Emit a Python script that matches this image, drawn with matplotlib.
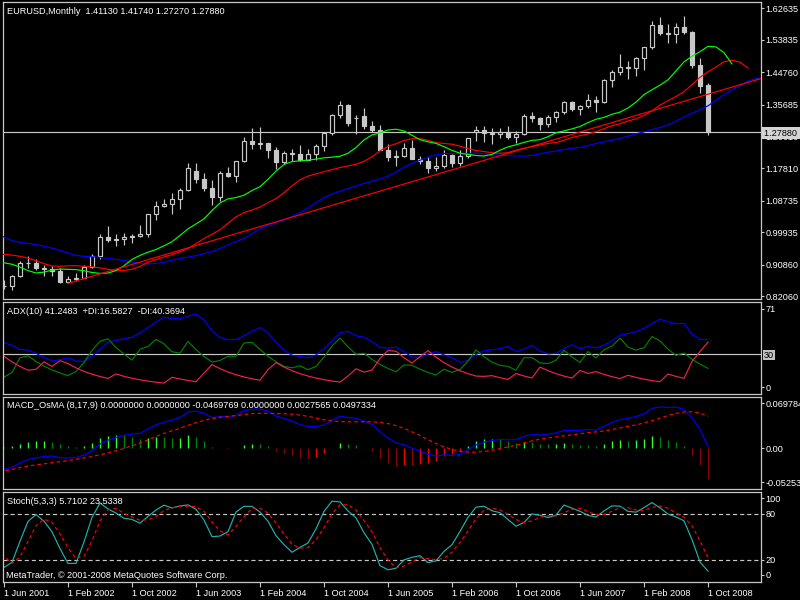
import numpy as np
import pandas as pd
import matplotlib
matplotlib.use("Agg")
import matplotlib.pyplot as plt

# EURUSD monthly, Jan 1999 - May 2001 (history left of the visible window, feeds the indicators)
pre_open = [1.1790, 1.1300, 1.0990, 1.0780, 1.0580, 1.0430, 1.0350, 1.0700, 1.0590, 1.0670, 1.0570, 1.0080,
            1.0070, 0.9720, 0.9650, 0.9570, 0.9110, 0.9330, 0.9520, 0.9230, 0.8880, 0.8830, 0.8490, 0.8720,
            0.9390, 0.9380, 0.9210, 0.8800, 0.8870]
pre_high = [1.1880, 1.1350, 1.1000, 1.0880, 1.0720, 1.0530, 1.0750, 1.0880, 1.0720, 1.0890, 1.0600, 1.0210,
            1.0420, 0.9930, 0.9800, 0.9680, 0.9360, 0.9650, 0.9560, 0.9270, 0.8950, 0.8870, 0.8760, 0.9430,
            0.9600, 0.9390, 0.9340, 0.9080, 0.8960]
pre_low = [1.1290, 1.0880, 1.0700, 1.0530, 1.0380, 1.0160, 1.0110, 1.0390, 1.0300, 1.0420, 1.0060, 1.0000,
           0.9690, 0.9390, 0.9530, 0.9080, 0.8840, 0.9280, 0.9170, 0.8860, 0.8440, 0.8230, 0.8420, 0.8680,
           0.9160, 0.9060, 0.8760, 0.8780, 0.8420]
pre_close = [1.1300, 1.0990, 1.0780, 1.0580, 1.0430, 1.0350, 1.0700, 1.0590, 1.0670, 1.0570, 1.0080, 1.0070,
             0.9720, 0.9650, 0.9570, 0.9110, 0.9330, 0.9520, 0.9230, 0.8880, 0.8830, 0.8490, 0.8720, 0.9390,
             0.9380, 0.9210, 0.8800, 0.8870, 0.8460]

# visible bars, Jun 2001 - Oct 2008
opens = [0.8500, 0.8480, 0.8770, 0.9120, 0.9140, 0.9000, 0.8970,
         0.8910, 0.8590, 0.8680, 0.8720, 0.9010, 0.9340, 0.9870, 0.9770, 0.9800, 0.9870, 0.9880, 0.9930,
         1.0490, 1.0730, 1.0780, 1.0910, 1.1170, 1.1720, 1.1490, 1.1240, 1.0980, 1.1650, 1.1580, 1.1990,
         1.2560, 1.2460, 1.2480, 1.2300, 1.1950, 1.2200, 1.2170, 1.2020, 1.2170, 1.2420, 1.2760, 1.3280,
         1.3560, 1.3200, 1.3250, 1.2960, 1.2860, 1.2300, 1.2100, 1.2130, 1.2340, 1.2030, 1.1990, 1.1790,
         1.1840, 1.2160, 1.1920, 1.2120, 1.2800, 1.2850, 1.2780, 1.2750, 1.2810, 1.2670, 1.2740, 1.3240,
         1.3200, 1.3010, 1.3230, 1.3350, 1.3650, 1.3450, 1.3540, 1.3700, 1.3630, 1.4260, 1.4490, 1.4630,
         1.4590, 1.4860, 1.5180, 1.5790, 1.5580, 1.5540, 1.5750, 1.5600, 1.4680, 1.4113]
highs = [0.8660, 0.8800, 0.9200, 0.9320, 0.9230, 0.9070, 0.9050,
         0.9000, 0.8780, 0.8850, 0.9070, 0.9390, 0.9930, 1.0180, 0.9950, 0.9960, 0.9930, 1.0190, 1.0490,
         1.0880, 1.0930, 1.1080, 1.1230, 1.1930, 1.1930, 1.1640, 1.1450, 1.1700, 1.1830, 1.2000, 1.2650,
         1.2900, 1.2930, 1.2500, 1.2390, 1.2280, 1.2320, 1.2440, 1.2310, 1.2450, 1.2810, 1.3300, 1.3670,
         1.3580, 1.3270, 1.3480, 1.3110, 1.2990, 1.2450, 1.2300, 1.2480, 1.2580, 1.2140, 1.2090, 1.2090,
         1.2290, 1.2180, 1.2300, 1.2640, 1.2980, 1.2980, 1.2900, 1.2920, 1.2970, 1.2840, 1.3290, 1.3370,
         1.3210, 1.3270, 1.3390, 1.3680, 1.3680, 1.3550, 1.3850, 1.3820, 1.4280, 1.4530, 1.4970, 1.4780,
         1.4890, 1.5190, 1.5900, 1.6020, 1.5820, 1.5840, 1.6040, 1.5630, 1.4870, 1.4174]
lows = [0.8400, 0.8370, 0.8740, 0.8990, 0.8930, 0.8770, 0.8780,
        0.8580, 0.8560, 0.8620, 0.8700, 0.9000, 0.9250, 0.9720, 0.9620, 0.9640, 0.9690, 0.9860, 0.9870,
        1.0340, 1.0690, 1.0500, 1.0630, 1.1150, 1.1380, 1.1140, 1.0760, 1.0880, 1.1540, 1.1400, 1.1960,
        1.2330, 1.2330, 1.2080, 1.1760, 1.1910, 1.1980, 1.2000, 1.2020, 1.2010, 1.2260, 1.2710, 1.3190,
        1.2980, 1.2730, 1.2880, 1.2810, 1.2290, 1.1990, 1.1860, 1.2110, 1.2030, 1.1900, 1.1640, 1.1700,
        1.1800, 1.1830, 1.1860, 1.2060, 1.2550, 1.2510, 1.2450, 1.2640, 1.2610, 1.2480, 1.2710, 1.3080,
        1.2860, 1.2950, 1.3070, 1.3290, 1.3400, 1.3270, 1.3460, 1.3360, 1.3600, 1.4050, 1.4400, 1.4280,
        1.4360, 1.4530, 1.5130, 1.5520, 1.5290, 1.5280, 1.5550, 1.4600, 1.3880, 1.2727]
closes = [0.8480, 0.8770, 0.9120, 0.9140, 0.9000, 0.8970, 0.8910,
          0.8590, 0.8680, 0.8720, 0.9010, 0.9340, 0.9870, 0.9770, 0.9800, 0.9870, 0.9880, 0.9930, 1.0490,
          1.0730, 1.0780, 1.0910, 1.1170, 1.1800, 1.1490, 1.1240, 1.0980, 1.1650, 1.1580, 1.1990, 1.2560,
          1.2460, 1.2480, 1.2300, 1.1950, 1.2200, 1.2170, 1.2020, 1.2170, 1.2420, 1.2760, 1.3280, 1.3560,
          1.3040, 1.3200, 1.2960, 1.2860, 1.2300, 1.2100, 1.2130, 1.2340, 1.2030, 1.1990, 1.1790, 1.1840,
          1.2160, 1.1920, 1.2120, 1.2630, 1.2850, 1.2780, 1.2750, 1.2810, 1.2670, 1.2740, 1.3240, 1.3200,
          1.3010, 1.3230, 1.3350, 1.3650, 1.3450, 1.3540, 1.3700, 1.3630, 1.4260, 1.4490, 1.4630, 1.4590,
          1.4860, 1.5180, 1.5790, 1.5580, 1.5540, 1.5750, 1.5600, 1.4680, 1.4090, 1.2788]

# trend line anchors (bar index from Jun 2001, price)
trend_start = (8, 0.8560)
trend_end = (53, 1.1540)

price_ticks = [1.62635, 1.53835, 1.44760, 1.35685, 1.26610, 1.17810, 1.08735, 0.99935, 0.90860, 0.82060]
adx_ticks = [71, 0]
macd_ticks = [0.069784, 0.0, -0.05253]
macd_tick_labels = ["0.069784", "0.00", "-0.05253"]
stoch_ticks = [100, 80, 20, 0]

# indicator read-outs as printed on the chart
adx_title = "ADX(10) 41.2483  +DI:16.5827  -DI:40.3694"
macd_title = "MACD_OsMA (8,17,9) 0.0000000 0.0000000 -0.0469769 0.0000000 0.0027565 0.0497334"
stoch_title = "Stoch(5,3,3) 5.7102 23.5338"

o = np.array(pre_open + opens)
h = np.array(pre_high + highs)
l = np.array(pre_low + lows)
c = np.array(pre_close + closes)
n_pre = len(pre_close)
x = np.arange(len(c)) - n_pre
dates = pd.date_range("1999-01-01", periods=len(c), freq="MS")


def smma(v, n):
    out = np.full(len(v), np.nan)
    out[n - 1] = v[:n].mean()
    for i in range(n, len(v)):
        out[i] = (out[i - 1] * (n - 1) + v[i]) / n
    return out


def ema(v, n):
    a = 2.0 / (n + 1)
    out = np.empty(len(v))
    out[0] = v[0]
    for i in range(1, len(v)):
        out[i] = out[i - 1] + a * (v[i] - out[i - 1])
    return out


# alligator
median = (h + l) / 2
jaw = smma(median, 13)
teeth = smma(median, 8)
lips = smma(median, 5)

# ADX(10)
pdm = np.zeros(len(c))
mdm = np.zeros(len(c))
for i in range(1, len(c)):
    up = max(h[i] - h[i - 1], 0)
    dn = max(l[i - 1] - l[i], 0)
    if up > dn:
        dn = 0
    elif dn > up:
        up = 0
    else:
        up = dn = 0
    tr = max(h[i] - l[i], abs(h[i] - c[i - 1]), abs(l[i] - c[i - 1]))
    pdm[i] = 100 * up / tr
    mdm[i] = 100 * dn / tr
plus_di = ema(pdm, 10)
minus_di = ema(mdm, 10)
dsum = np.where(plus_di + minus_di == 0, 1, plus_di + minus_di)
adx = ema(100 * np.abs(plus_di - minus_di) / dsum, 10)

# MACD / OsMA (8,17,9)
macd = ema(c, 8) - ema(c, 17)
signal = pd.Series(macd).rolling(9).mean().to_numpy()
osma = macd - signal

# Stochastic (5,3,3)
num = np.full(len(c), np.nan)
den = np.full(len(c), np.nan)
for i in range(4, len(c)):
    num[i] = c[i] - l[i - 4:i + 1].min()
    den[i] = h[i - 4:i + 1].max() - l[i - 4:i + 1].min()
stoch_k = 100 * pd.Series(num).rolling(3).sum().to_numpy() / pd.Series(den).rolling(3).sum().to_numpy()
stoch_d = pd.Series(stoch_k).rolling(3).mean().to_numpy()

plt.rcParams['font.family'] = ['Liberation Sans', 'DejaVu Sans']
FG = "#c8c8c8"
FS = 6.6
W, H = 800, 600
fig = plt.figure(figsize=(8, 6), dpi=100, facecolor="black")


def panel(top, bottom):
    ax = fig.add_axes([3 / W, 1 - bottom / H, 758 / W, (bottom - top) / H], facecolor="black")
    for s in ax.spines.values():
        s.set_color(FG)
        s.set_linewidth(0.9)
    ax.set_xlim(-0.125, 94.625)
    ax.yaxis.tick_right()
    ax.tick_params(axis="y", direction="out", length=2.5, width=0.8, colors=FG,
                   labelcolor="white", labelsize=FS, pad=0.8)
    ax.tick_params(axis="x", bottom=False, labelbottom=False)
    return ax


def ftext(px, py, s, **kw):
    kw.setdefault("color", "white")
    fig.text(px / W, 1 - py / H, s, fontsize=FS, va="center", **kw)


lw = 0.85

# price panel
ax1 = panel(2, 299)
ax1.set_ylim(0.81220, 1.64399)
ax1.set_yticks(price_ticks)
ax1.set_yticklabels([f"{t:.5f}" for t in price_ticks])
vis = x >= 0
bull = vis & (c >= o)
bear = vis & (c < o)
ax1.vlines(x[vis], l[vis], h[vis], color=FG, lw=lw, zorder=2)
ax1.bar(x[bull], c[bull] - o[bull], bottom=o[bull], width=0.55, facecolor="black",
        edgecolor=FG, linewidth=lw, zorder=3)
ax1.bar(x[bear], c[bear] - o[bear], bottom=o[bear], width=0.55, facecolor=FG,
        edgecolor=FG, linewidth=lw, zorder=3)
ax1.axhline(closes[-1], color=FG, lw=lw, zorder=2)
ax1.plot(x + 8, jaw, color="#0000ff", lw=lw, zorder=4)
ax1.plot(x + 5, teeth, color="#ff0000", lw=lw, zorder=4)
ax1.plot(x + 3, lips, color="#00ff00", lw=lw, zorder=4)
slope = (trend_end[1] - trend_start[1]) / (trend_end[0] - trend_start[0])
tx = np.array([trend_start[0], 100])
ax1.plot(tx, trend_start[1] + slope * (tx - trend_start[0]), color="#ff0000", lw=lw, zorder=4)
ftext(7, 11, f"EURUSD,Monthly  {opens[-1]:.5f} {highs[-1]:.5f} {lows[-1]:.5f} {closes[-1]:.5f}")
ftext(764, 133, f"{closes[-1]:.5f}    ", color="black", zorder=10,
      bbox=dict(facecolor="#d4d4d4", edgecolor="none", pad=1.3))

# ADX panel
ax2 = panel(302, 394)
ax2.set_ylim(-6.37, 77.37)
ax2.set_yticks(adx_ticks)
ax2.axhline(30, color=FG, lw=lw)
ax2.plot(x, adx, color="#0000ff", lw=lw)
ax2.plot(x, plus_di, color="#008000", lw=lw)
ax2.plot(x, minus_di, color="#f0204a", lw=lw)
ftext(7, 311, adx_title)
ftext(764, 355, "30", color="black", zorder=10,
      bbox=dict(facecolor="#c0c0c0", edgecolor="none", pad=0.6))

# MACD panel
ax3 = panel(397, 489)
ax3.set_ylim(-0.06292, 0.07955)
ax3.set_yticks(macd_ticks)
ax3.set_yticklabels(macd_tick_labels)
prev = np.concatenate([[np.nan], osma[:-1]])
cols = np.where(osma >= 0, np.where(osma >= prev, "#32ff32", "#008000"),
                np.where(osma >= prev, "#ff0000", "#8b0000"))
ok = ~np.isnan(osma)
ax3.vlines(x[ok], 0, osma[ok], colors=cols[ok], lw=1.0)
ax3.plot(x, macd, color="#0000ff", lw=lw)
ax3.plot(x, signal, color="#ff0000", lw=lw, ls=(0, (3, 2.5)))
ftext(7, 406, macd_title)

# Stochastic panel
ax4 = panel(492, 582)
ax4.set_ylim(-9.13, 108.2)
ax4.set_yticks(stoch_ticks)
for lev in (20, 80):
    ax4.axhline(lev, color=FG, lw=lw, ls=(0, (3.5, 2.5)))
ax4.plot(x, stoch_k, color="#20b2aa", lw=lw)
ax4.plot(x, stoch_d, color="#ff0000", lw=lw, ls=(0, (3, 2.5)))
ftext(7, 501, stoch_title)
ftext(6, 575, "MetaTrader, © 2001-2008 MetaQuotes Software Corp.")

tick_pos = np.arange(0, len(closes), 8)
ax4.set_xticks(tick_pos)
ax4.set_xticklabels([f"1 {dates[n_pre + p].strftime('%b %Y')}" for p in tick_pos])
ax4.tick_params(axis="x", bottom=True, labelbottom=True, direction="out", length=3.5,
                width=0.8, colors=FG, labelcolor="white", labelsize=FS, pad=1.5)
for lbl in ax4.get_xticklabels():
    lbl.set_ha("left")

fig.savefig("out.png", dpi=100, facecolor="black")
